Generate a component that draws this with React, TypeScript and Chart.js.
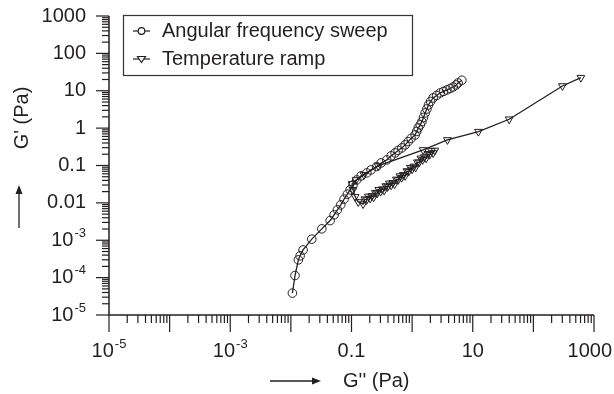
import React, { useEffect, useRef } from 'react';
import { Chart, registerables } from 'chart.js';

Chart.register(...registerables);

// ---- Data (G'' on x, G' on y, Pa) ----
const sweepGpp = [
  0.0106, 0.0117, 0.0133, 0.0142, 0.0159, 0.0221, 0.0324, 0.0444, 0.0516, 0.0585,
  0.0665, 0.0755, 0.0855, 0.0949, 0.106, 0.122, 0.144, 0.179, 0.21, 0.261,
  0.308, 0.382, 0.45, 0.523, 0.587, 0.676, 0.766, 0.859, 0.962, 1.12,
  1.19, 1.26, 1.36, 1.45, 1.54, 1.64, 1.75, 1.86, 2.02, 2.22,
  2.54, 2.9, 3.29, 3.74, 4.24, 4.75, 5.32, 5.74, 6.61,
];
const sweepGp = [
  3.85e-5, 1.14e-4, 2.99e-4, 3.83e-4, 5.5e-4, 1.07e-3, 2.02e-3, 3.36e-3, 4.78e-3, 6.5e-3,
  8.85e-3, 0.01256, 0.0171, 0.0223, 0.0303, 0.0412, 0.0527, 0.0634, 0.0762, 0.0935,
  0.117, 0.141, 0.181, 0.217, 0.253, 0.296, 0.356, 0.436, 0.531, 0.658,
  0.817, 1.01, 1.22, 1.49, 1.93, 2.55, 3.26, 4.17, 5.18, 6.42,
  7.49, 8.73, 9.58, 10.5, 11.5, 12.6, 14.3, 16.2, 19.1,
];

const rampGpp = [
  608, 302, 39.9, 12.4, 3.82, 1.52, 0.275, 0.161, 0.119, 0.102,
  0.106, 0.115, 0.129,
  0.1554, 0.1661, 0.1775, 0.1897, 0.2027, 0.2167, 0.2316, 0.2475, 0.2645, 0.2827,
  0.3021, 0.3229, 0.3451, 0.3687, 0.3942, 0.4213, 0.4503, 0.4812, 0.5143, 0.5496,
  0.5875, 0.6279, 0.671, 0.7172, 0.7665, 0.8192, 0.8755, 0.9357, 1.0, 1.069,
  1.142, 1.221, 1.305, 1.394, 1.49, 1.593, 1.702, 1.82, 1.944, 2.078,
  2.221, 2.374,
];
const rampGp = [
  22.4, 13.4, 1.73, 0.806, 0.483, 0.261, 0.0975, 0.0561, 0.0412, 0.0322,
  0.0223, 0.0145, 0.0106,
  0.00929, 0.01264, 0.01196, 0.01492, 0.01319, 0.01539, 0.01411, 0.01874, 0.01784, 0.0224,
  0.02005, 0.02339, 0.02146, 0.0283, 0.02677, 0.03322, 0.02955, 0.03447, 0.03162, 0.04249,
  0.04095, 0.05207, 0.04719, 0.05641, 0.05271, 0.07126, 0.06868, 0.08735, 0.07914, 0.09461,
  0.08896, 0.1225, 0.121, 0.1558, 0.1412, 0.1688, 0.1558, 0.2055, 0.1944, 0.2457,
  0.2159, 0.2533,
];

// ---- Axis / text ----
const X_MIN = 1e-5;
const X_MAX = 1000;
const Y_MIN = 1e-5;
const Y_MAX = 1000;
const xLabelValues = [1e-5, 1e-3, 0.1, 10, 1000];
const xLabels = ['10^-5', '10^-3', '0.1', '10', '1000'];
const yLabelValues = [1000, 100, 10, 1, 0.1, 0.01, 1e-3, 1e-4, 1e-5];
const yLabels = ['1000', '100', '10', '1', '0.1', '0.01', '10^-3', '10^-4', '10^-5'];
const legendLabels = ['Angular frequency sweep', 'Temperature ramp'];
const xTitle = "G'' (Pa)";
const yTitle = "G' (Pa)";

const INK = '#231f20';
const FONT_FAMILY = '"Liberation Sans", Arial, Helvetica, sans-serif';
const FONT = `20px ${FONT_FAMILY}`;
const SUP_FONT = `13px ${FONT_FAMILY}`;

function labelWidth(ctx: CanvasRenderingContext2D, s: string): number {
  if (s.includes('^')) {
    const [b, e] = s.split('^');
    ctx.font = FONT;
    const wb = ctx.measureText(b).width;
    ctx.font = SUP_FONT;
    const we = ctx.measureText(e).width;
    return wb + we + 1;
  }
  ctx.font = FONT;
  return ctx.measureText(s).width;
}

function drawLabel(ctx: CanvasRenderingContext2D, s: string, left: number, mid: number) {
  ctx.textAlign = 'left';
  ctx.textBaseline = 'middle';
  if (s.includes('^')) {
    const [b, e] = s.split('^');
    ctx.font = FONT;
    ctx.fillText(b, left, mid);
    const wb = ctx.measureText(b).width;
    ctx.font = SUP_FONT;
    ctx.fillText(e, left + wb + 1, mid - 7);
  } else {
    ctx.font = FONT;
    ctx.fillText(s, left, mid);
  }
}

function line(ctx: CanvasRenderingContext2D, x1: number, y1: number, x2: number, y2: number) {
  ctx.beginPath();
  ctx.moveTo(x1, y1);
  ctx.lineTo(x2, y2);
  ctx.stroke();
}

const axesPlugin = {
  id: 'customAxes',
  beforeDatasetsDraw(chart: any) {
    const ctx: CanvasRenderingContext2D = chart.ctx;
    const xs = chart.scales.x;
    const ys = chart.scales.y;
    const x0 = xs.getPixelForValue(X_MIN);
    const x1 = xs.getPixelForValue(X_MAX);
    const y0 = ys.getPixelForValue(Y_MIN);
    const y1 = ys.getPixelForValue(Y_MAX);
    ctx.save();
    ctx.strokeStyle = INK;
    ctx.fillStyle = INK;
    ctx.lineWidth = 1.5;
    line(ctx, x0, y0, x1, y0);
    line(ctx, x0, y0, x0, y1);
    ctx.lineWidth = 1.2;
    // x ticks
    for (let d = -5; d <= 3; d++) {
      const major = Math.pow(10, d);
      const px = xs.getPixelForValue(major);
      line(ctx, px, y0, px, y0 + 17);
      if (d < 3) {
        for (let k = 2; k <= 9; k++) {
          const mx = xs.getPixelForValue(k * major);
          line(ctx, mx, y0, mx, y0 + 8);
        }
      }
    }
    // y ticks
    for (let d = -5; d <= 3; d++) {
      const major = Math.pow(10, d);
      const py = ys.getPixelForValue(major);
      line(ctx, x0, py, x0 - 13, py);
      if (d < 3) {
        for (let k = 2; k <= 9; k++) {
          const my = ys.getPixelForValue(k * major);
          line(ctx, x0, my, x0 - 7, my);
        }
      }
    }
    // x labels
    xLabelValues.forEach((v, i) => {
      const px = xs.getPixelForValue(v);
      const w = labelWidth(ctx, xLabels[i]);
      let left = px - w / 2;
      if (left + w > chart.width - 2) left = chart.width - 2 - w;
      drawLabel(ctx, xLabels[i], left, y0 + 36);
    });
    // y labels
    yLabelValues.forEach((v, i) => {
      const py = ys.getPixelForValue(v);
      const w = labelWidth(ctx, yLabels[i]);
      drawLabel(ctx, yLabels[i], x0 - 23 - w, py);
    });
    // x title + arrow
    const tY = y0 + 66;
    ctx.font = FONT;
    ctx.textAlign = 'left';
    ctx.textBaseline = 'middle';
    ctx.fillText(xTitle, 343, tY);
    ctx.lineWidth = 1.3;
    line(ctx, 270, tY, 314, tY);
    ctx.beginPath();
    ctx.moveTo(321, tY);
    ctx.lineTo(312, tY - 3.5);
    ctx.lineTo(312, tY + 3.5);
    ctx.closePath();
    ctx.fill();
    // y title + arrow
    ctx.save();
    ctx.translate(22, 118);
    ctx.rotate(-Math.PI / 2);
    ctx.textAlign = 'center';
    ctx.fillText(yTitle, 0, 0);
    ctx.restore();
    line(ctx, 19, 228, 19, 192);
    ctx.beginPath();
    ctx.moveTo(19, 185);
    ctx.lineTo(15.5, 194);
    ctx.lineTo(22.5, 194);
    ctx.closePath();
    ctx.fill();
    ctx.restore();
  },
  afterDatasetsDraw(chart: any) {
    const ctx: CanvasRenderingContext2D = chart.ctx;
    ctx.save();
    ctx.fillStyle = '#fff';
    ctx.fillRect(123, 15, 289, 60);
    ctx.strokeStyle = '#333';
    ctx.lineWidth = 1.2;
    ctx.strokeRect(123.5, 15.5, 289, 60);
    ctx.strokeStyle = INK;
    ctx.fillStyle = INK;
    const rows = [31, 59];
    rows.forEach((yy, i) => {
      ctx.lineWidth = 1.2;
      line(ctx, 133, yy, 150, yy);
      if (i === 0) {
        ctx.beginPath();
        ctx.arc(141.5, yy, 3.3, 0, Math.PI * 2);
        ctx.fillStyle = '#fff';
        ctx.fill();
        ctx.stroke();
      } else {
        ctx.beginPath();
        ctx.moveTo(137.5, yy - 2.5);
        ctx.lineTo(145.5, yy - 2.5);
        ctx.lineTo(141.5, yy + 3.5);
        ctx.closePath();
        ctx.fillStyle = '#fff';
        ctx.fill();
        ctx.stroke();
      }
      ctx.fillStyle = INK;
      ctx.font = FONT;
      ctx.textAlign = 'left';
      ctx.textBaseline = 'middle';
      ctx.fillText(legendLabels[i], 162, yy);
    });
    ctx.restore();
  },
};

export default function App() {
  const canvasRef = useRef<HTMLCanvasElement | null>(null);

  useEffect(() => {
    document.body.style.margin = '0';
    const canvas = canvasRef.current;
    if (!canvas) return;
    const sweep = sweepGpp.map((x, i) => ({ x, y: sweepGp[i] }));
    const ramp = rampGpp.map((x, i) => ({ x, y: rampGp[i] }));
    const chart = new Chart(canvas, {
      type: 'scatter',
      data: {
        datasets: [
          {
            label: legendLabels[0],
            data: sweep,
            showLine: true,
            borderColor: INK,
            borderWidth: 1.3,
            pointStyle: 'circle',
            pointRadius: 4.3,
            pointBorderWidth: 1,
            pointBorderColor: INK,
            pointBackgroundColor: 'rgba(0,0,0,0)',
          },
          {
            label: legendLabels[1],
            data: ramp,
            showLine: true,
            borderColor: INK,
            borderWidth: 1.3,
            pointStyle: 'triangle',
            rotation: 180,
            pointRotation: 180,
            pointRadius: 4.5,
            pointBorderWidth: 1,
            pointBorderColor: INK,
            pointBackgroundColor: 'rgba(0,0,0,0)',
          },
        ],
      } as any,
      options: {
        responsive: false,
        maintainAspectRatio: false,
        devicePixelRatio: 1,
        animation: false,
        layout: { padding: { left: 109, top: 16, right: 20, bottom: 79 } },
        scales: {
          x: { type: 'logarithmic', min: X_MIN, max: X_MAX, display: false },
          y: { type: 'logarithmic', min: Y_MIN, max: Y_MAX, display: false },
        },
        plugins: {
          legend: { display: false },
          tooltip: { enabled: false },
        },
        events: [],
      } as any,
      plugins: [axesPlugin],
    });
    return () => chart.destroy();
  }, []);

  return (
    <div style={{ position: 'fixed', left: 0, top: 0, width: 614, height: 394, background: '#fff' }}>
      <canvas ref={canvasRef} width={614} height={394} style={{ display: 'block' }} />
    </div>
  );
}
